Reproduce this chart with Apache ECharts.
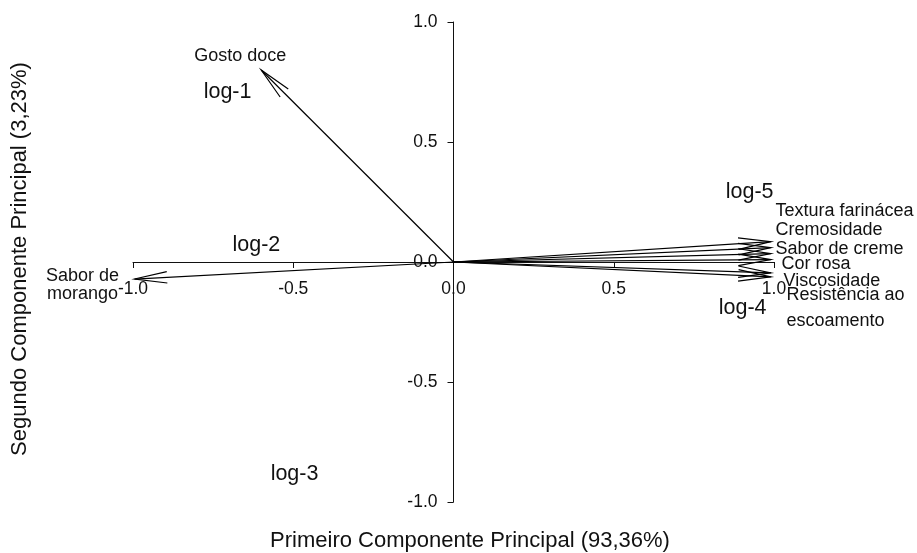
<!DOCTYPE html>
<html>
<head>
<meta charset="utf-8">
<script src="https://cdn.jsdelivr.net/npm/echarts@6/dist/echarts.min.js"></script>
<style>html,body{margin:0;padding:0;background:#fff}#c{width:917px;height:553px}</style>
</head>
<body>
<div id="c"></div>
<script>
// Variable loadings (arrows)
const varNames = ['Gosto doce', 'Sabor de\nmorango', 'Textura farinácea', 'Cremosidade', 'Sabor de creme', 'Cor rosa', 'Viscosidade', 'Resistência ao\nescoamento'];
const varPC1 = [-0.60, -0.995, 0.99, 0.99, 0.99, 0.99, 0.99, 0.99];
const varPC2 = [0.80, -0.071, 0.085, 0.060, 0.035, 0.010, -0.045, -0.062];

// Sample scores (text labels)
const sampleNames = ['log-1', 'log-2', 'log-3', 'log-4', 'log-5'];
const samplePC1 = [-0.705, -0.615, -0.496, 0.902, 0.924];
const samplePC2 = [0.708, 0.069, -0.883, -0.19, 0.29];

// Axis ticks
const axisMin = -1.0, axisMax = 1.0, axisStep = 0.5;
const xTitle = 'Primeiro Componente Principal (93,36%)';
const yTitle = 'Segundo Componente Principal (3,23%)';

// label placement relative to arrow tip (pixels) – styling only
const labelOffsets = [
  {dx: -21, dy: -14, align: 'center', lh: 20},
  {dx: -52, dy: 5.5, align: 'center', lh: 18},
  {dx: 4.7, dy: -31, align: 'left', lh: 20},
  {dx: 4.7, dy: -17.6, align: 'left', lh: 20},
  {dx: 4.7, dy: -4.6, align: 'left', lh: 20},
  {dx: 10.7, dy: 4.9, align: 'left', lh: 20},
  {dx: 12.7, dy: 8.5, align: 'left', lh: 20},
  {dx: 15.7, dy: 31.2, align: 'left', lh: 26}
];

const FONT = 'Arial, "Liberation Sans", sans-serif';
const TXT = '#111';
const LINE = '#111';

const W = 917, H = 553;
const G = {left: 133, right: 143, top: 22, bottom: 51};
const gridW = W - G.left - G.right, gridH = H - G.top - G.bottom;
// move axes so they cross at the origin (lines, ticks and labels together)
const xOffset = -gridH * (0 - axisMin) / (axisMax - axisMin);
const yOffset = -gridW * (0 - axisMin) / (axisMax - axisMin);

const chart = echarts.init(document.getElementById('c'), null, {renderer: 'canvas'});

const varData = varNames.map((n, i) => [varPC1[i], varPC2[i]]);
const sampleData = sampleNames.map((n, i) => [samplePC1[i], samplePC2[i]]);

const fmt = v => (Math.abs(v) < 1e-9 ? 0 : v).toFixed(1);

chart.setOption({
  animation: false,
  grid: Object.assign({containLabel: false}, G),
  xAxis: {
    type: 'value', min: axisMin, max: axisMax, interval: axisStep,
    position: 'bottom', offset: xOffset,
    axisLine: {show: true, onZero: false, lineStyle: {color: LINE, width: 1}},
    axisTick: {show: true, length: 6, lineStyle: {color: LINE}},
    axisLabel: {margin: 18, color: TXT, fontSize: 17.5, fontFamily: FONT, formatter: fmt},
    splitLine: {show: false}
  },
  yAxis: {
    type: 'value', min: axisMin, max: axisMax, interval: axisStep,
    position: 'left', offset: yOffset,
    axisLine: {show: true, onZero: false, lineStyle: {color: LINE, width: 1}},
    axisTick: {show: true, length: 6, lineStyle: {color: LINE}},
    axisLabel: {margin: 16, color: TXT, fontSize: 17.5, fontFamily: FONT, formatter: fmt},
    splitLine: {show: false}
  },
  graphic: [
    {type: 'text', x: 470, y: 541, style: {text: xTitle, font: '22px ' + FONT, fill: TXT, align: 'center', verticalAlign: 'middle'}},
    {type: 'text', x: 20, y: 259, rotation: Math.PI / 2, style: {text: yTitle, font: '22px ' + FONT, fill: TXT, align: 'center', verticalAlign: 'middle'}}
  ],
  series: [
    {
      type: 'custom',
      clip: false,
      data: varData,
      renderItem: function (params, api) {
        const i = params.dataIndex;
        const o = api.coord([0, 0]);
        const t = api.coord([api.value(0), api.value(1)]);
        const ang = Math.atan2(o[1] - t[1], o[0] - t[0]);
        const L = 33, h = 10 * Math.PI / 180;
        const b1 = [t[0] + L * Math.cos(ang + h), t[1] + L * Math.sin(ang + h)];
        const b2 = [t[0] + L * Math.cos(ang - h), t[1] + L * Math.sin(ang - h)];
        const off = labelOffsets[i];
        return {
          type: 'group',
          children: [
            {type: 'line', shape: {x1: o[0], y1: o[1], x2: t[0], y2: t[1]}, style: {stroke: '#000', lineWidth: 1.2}},
            {type: 'polyline', shape: {points: [b1, t, b2]}, style: {stroke: '#000', fill: null, lineWidth: 1.2}},
            {type: 'text', x: t[0] + off.dx, y: t[1] + off.dy,
             style: {text: varNames[i], font: '18px ' + FONT, fill: TXT, align: off.align, verticalAlign: 'middle', lineHeight: off.lh}}
          ]
        };
      }
    },
    {
      type: 'custom',
      clip: false,
      data: sampleData,
      renderItem: function (params, api) {
        const p = api.coord([api.value(0), api.value(1)]);
        return {
          type: 'text', x: p[0], y: p[1],
          style: {text: sampleNames[params.dataIndex], font: '21.5px ' + FONT, fill: TXT, align: 'center', verticalAlign: 'middle'}
        };
      }
    }
  ]
});
</script>
</body>
</html>
